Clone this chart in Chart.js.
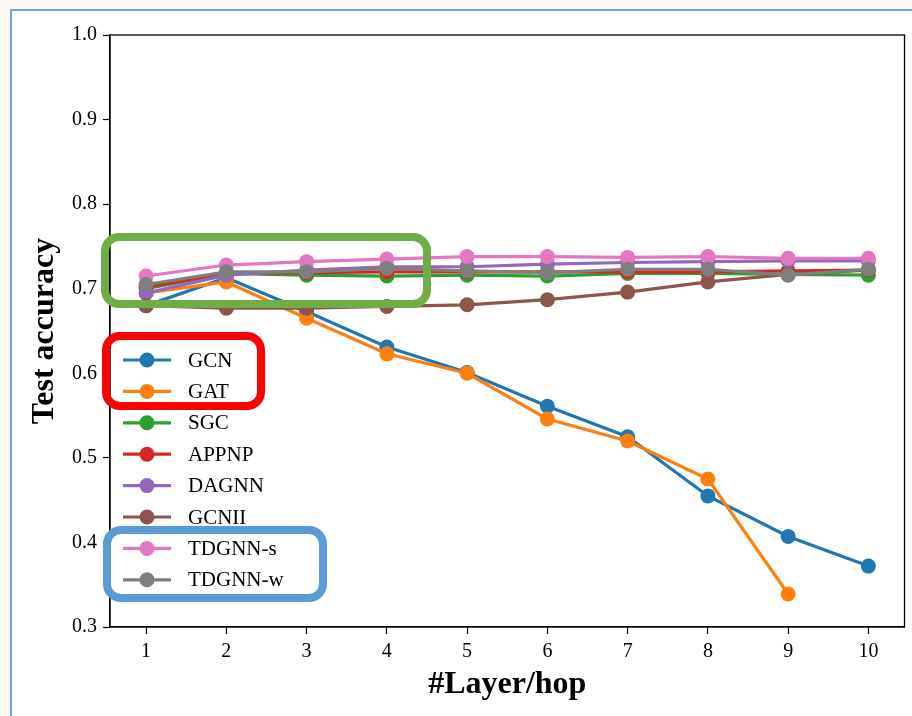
<!DOCTYPE html>
<html>
<head>
<meta charset="utf-8">
<script src="https://cdn.jsdelivr.net/npm/chart.js@4"></script>
<style>
  html, body { margin: 0; padding: 0; width: 912px; height: 716px; overflow: hidden; background: #fbf8f3; }
  #frame { position: absolute; left: 10px; top: 9px; width: 920px; height: 720px; background: #fff;
           border-left: 2px solid #6fa3da; border-top: 2px solid #6fa3da; }
  #myChart { position: absolute; left: 0; top: 0; }
</style>
</head>
<body>
<div id="frame"></div>
<canvas id="myChart" width="912" height="716"></canvas>
<script>
// x axis: number of layers / hops
var layers = [1, 2, 3, 4, 5, 6, 7, 8, 9, 10];
var yTicks = [0.3, 0.4, 0.5, 0.6, 0.7, 0.8, 0.9, 1.0];

var names = ['GCN', 'GAT', 'SGC', 'APPNP', 'DAGNN', 'GCNII', 'TDGNN-s', 'TDGNN-w'];
var colors = ['#1f77b4', '#ff7f0e', '#2ca02c', '#d62728', '#9467bd', '#8c564b', '#e377c2', '#7f7f7f'];

var gcn    = [0.680, 0.713, 0.673, 0.631, 0.601, 0.561, 0.525, 0.455, 0.407, 0.372];
var gat    = [0.695, 0.708, 0.665, 0.623, 0.600, 0.546, 0.520, 0.475, 0.339];
var sgc    = [0.700, 0.718, 0.716, 0.715, 0.716, 0.715, 0.718, 0.718, 0.717, 0.716];
var appnp  = [0.702, 0.718, 0.719, 0.720, 0.720, 0.720, 0.720, 0.720, 0.721, 0.722];
var dagnn  = [0.695, 0.716, 0.722, 0.726, 0.726, 0.729, 0.731, 0.732, 0.733, 0.733];
var gcnii  = [0.680, 0.677, 0.677, 0.679, 0.681, 0.687, 0.696, 0.708, 0.717, 0.722];
var tdgnnS = [0.715, 0.728, 0.732, 0.735, 0.738, 0.738, 0.737, 0.738, 0.736, 0.736];
var tdgnnW = [0.705, 0.720, 0.720, 0.724, 0.721, 0.719, 0.723, 0.723, 0.716, 0.723];

var series = [gcn, gat, sgc, appnp, dagnn, gcnii, tdgnnS, tdgnnW];

Chart.defaults.font.family = '"Liberation Serif", "DejaVu Serif", serif';
Chart.defaults.color = '#000';

var datasets = series.map(function (vals, i) {
  return {
    label: names[i],
    data: vals.map(function (v, j) { return { x: layers[j], y: v }; }),
    borderColor: colors[i],
    backgroundColor: colors[i],
    pointBackgroundColor: colors[i],
    pointBorderWidth: 0,
    pointRadius: 7.5,
    borderWidth: 3.2,
    order: -i   // later series drawn on top, like matplotlib
  };
});

// legend, box spines and highlight rectangles
var decor = {
  id: 'decor',
  afterDraw: function (chart) {
    var ctx = chart.ctx, a = chart.chartArea;
    ctx.save();
    ctx.strokeStyle = '#000';
    ctx.lineWidth = 1.3;
    ctx.strokeRect(a.left, a.top, a.right - a.left, a.bottom - a.top);

    // legend
    ctx.font = '21px "Liberation Serif"';
    ctx.textBaseline = 'middle';
    ctx.textAlign = 'left';
    chart.data.datasets.forEach(function (ds, i) {
      var y = 360 + i * 31.4;
      ctx.strokeStyle = ds.borderColor;
      ctx.lineWidth = 3.2;
      ctx.beginPath();
      ctx.moveTo(123, y);
      ctx.lineTo(171, y);
      ctx.stroke();
      ctx.fillStyle = ds.borderColor;
      ctx.beginPath();
      ctx.arc(147, y, 7.5, 0, Math.PI * 2);
      ctx.fill();
      ctx.fillStyle = '#000';
      ctx.fillText(ds.label, 188, y + 1);
    });

    function box(x1, y1, x2, y2, col) {
      ctx.strokeStyle = col;
      ctx.lineWidth = 8;
      ctx.beginPath();
      ctx.roundRect(x1, y1, x2 - x1, y2 - y1, 14);
      ctx.stroke();
    }
    box(105, 237, 427, 304, '#70ad47');
    box(106, 336, 261, 406, '#ff0000');
    box(107, 530, 323, 598, '#5b9bd5');
    ctx.restore();
  }
};

var ctx = document.getElementById('myChart');
var myChart = new Chart(ctx, {
  type: 'line',
  data: { datasets: datasets },
  options: {
    responsive: false,
    animation: false,
    devicePixelRatio: 1,
    layout: { padding: { top: 35, right: 6, left: 0, bottom: 0 } },
    plugins: { legend: { display: false }, tooltip: { enabled: false } },
    scales: {
      x: {
        type: 'linear',
        min: 0.55,
        max: 10.45,
        afterFit: function (s) { s.height = 89; },
        afterBuildTicks: function (s) { s.ticks = layers.map(function (v) { return { value: v }; }); },
        ticks: { font: { size: 20 }, padding: 6, maxRotation: 0, autoSkip: false },
        grid: { display: true, drawOnChartArea: false, drawTicks: true, tickLength: 7, tickColor: '#000', tickWidth: 1.2 },
        border: { display: true, color: '#000', width: 1.3 },
        title: { display: true, text: '#Layer/hop', font: { size: 32, weight: 'bold' }, padding: { top: 0, bottom: 12 } }
      },
      y: {
        min: 0.3,
        max: 1.0,
        afterFit: function (s) { s.width = 110; },
        afterBuildTicks: function (s) { s.ticks = yTicks.map(function (v) { return { value: v }; }); },
        ticks: { font: { size: 20 }, padding: 6, callback: function (v) { return v.toFixed(1); } },
        grid: { display: true, drawOnChartArea: false, drawTicks: true, tickLength: 7, tickColor: '#000', tickWidth: 1.2 },
        border: { display: true, color: '#000', width: 1.3 },
        title: { display: true, text: 'Test accuracy', font: { size: 32, weight: 'bold' }, padding: { top: 26, bottom: 0 } }
      }
    }
  },
  plugins: [decor]
});
</script>
</body>
</html>
